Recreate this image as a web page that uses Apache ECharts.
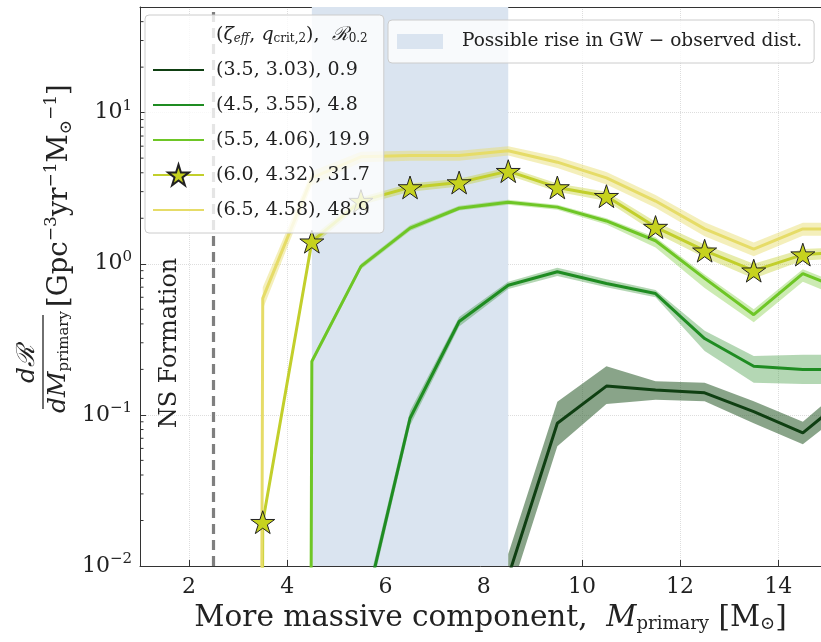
<!DOCTYPE html>
<html><head><meta charset="utf-8">
<script src="https://cdn.jsdelivr.net/npm/echarts@6/dist/echarts.min.js"></script>
<style>html,body{margin:0;padding:0;background:#fff}#c{width:821px;height:642px}</style>
</head><body><div id="c"></div>
<script>
// ---------------- data ----------------
const masses = [2.5, 3.5, 4.5, 5.5, 6.5, 7.5, 8.5, 9.5, 10.5, 11.5, 12.5, 13.5, 14.5, 15.5];

const seriesNames = ['(3.5, 3.03), 0.9', '(4.5, 3.55), 4.8', '(5.5, 4.06), 19.9', '(6.0, 4.32), 31.7', '(6.5, 4.58), 48.9'];

const rate_a = [0, 0, 0, 0, 0, 0, 0.0085, 0.088, 0.155, 0.146, 0.14, 0.105, 0.076, 0.14];
const low_a  = [0, 0, 0, 0, 0, 0, 0.006, 0.062, 0.118, 0.126, 0.123, 0.088, 0.064, 0.115];
const high_a = [0, 0, 0, 0, 0, 0, 0.012, 0.122, 0.21, 0.167, 0.163, 0.123, 0.09, 0.17];

const rate_b = [0, 0, 0, 0.004, 0.095, 0.415, 0.72, 0.885, 0.74, 0.635, 0.32, 0.21, 0.2, 0.2];
const low_b  = [0, 0, 0, 0.0035, 0.085, 0.385, 0.68, 0.83, 0.7, 0.6, 0.265, 0.163, 0.16, 0.16];
const high_b = [0, 0, 0, 0.0046, 0.106, 0.445, 0.76, 0.94, 0.79, 0.67, 0.36, 0.245, 0.25, 0.25];

const rate_c = [0, 0, 0.226, 0.96, 1.72, 2.33, 2.55, 2.37, 1.92, 1.42, 0.8, 0.46, 0.86, 0.64];
const low_c  = [0, 0, 0.215, 0.92, 1.65, 2.25, 2.46, 2.28, 1.82, 1.28, 0.69, 0.41, 0.76, 0.56];
const high_c = [0, 0, 0.237, 1.0, 1.8, 2.42, 2.65, 2.46, 2.0, 1.5, 0.85, 0.5, 0.92, 0.68];

const rate_d = [0, 0.0195, 1.4, 2.6, 3.2, 3.45, 4.1, 3.2, 2.8, 1.75, 1.22, 0.9, 1.15, 1.2];
const low_d  = [0, 0.018, 1.3, 2.45, 3.0, 3.25, 3.85, 3.0, 2.6, 1.6, 1.1, 0.8, 1.05, 1.1];
const high_d = [0, 0.021, 1.5, 2.75, 3.4, 3.65, 4.35, 3.4, 3.0, 1.9, 1.34, 1.0, 1.25, 1.3];

const rate_e = [0, 0.59, 3.7, 5.1, 5.2, 5.2, 5.6, 4.7, 3.7, 2.6, 1.7, 1.25, 1.7, 1.7];
const low_e  = [0, 0.5, 3.3, 4.7, 4.8, 4.8, 5.2, 4.3, 3.35, 2.35, 1.52, 1.12, 1.53, 1.53];
const high_e = [0, 0.7, 4.1, 5.5, 5.6, 5.6, 6.0, 5.1, 4.05, 2.85, 1.88, 1.38, 1.87, 1.87];

const gwRiseRange = [4.5, 8.5];
const nsFormationMass = 2.5;

const xTickValues = [2, 4, 6, 8, 10, 12, 14];
const yDecades = [0.01, 0.1, 1, 10];
const minorMultipliers = [2, 3, 4, 5, 6, 7, 8, 9];

const X_MIN = 1, X_MAX = 14.87, Y_MIN = 0.01, Y_MAX = 50;

// ---------------- styling ----------------
const SERIF = '"DejaVu Serif", "Liberation Serif", serif';
const colors = ['#0f3f12', '#1f8c22', '#6ec626', '#c2cf2c', '#e6dc68'];
const bandColors = ['rgba(40,90,40,0.55)', 'rgba(40,140,40,0.35)', 'rgba(110,198,38,0.35)', 'rgba(194,207,44,0.4)', 'rgba(230,220,104,0.45)'];
const HDR = 'hdr';
const GW_NAME = 'Possible rise in GW \u2212 observed dist.';
const STAR = 'path://M50 0 L61.23 34.55 L97.55 34.55 L68.17 55.9 L79.39 90.45 L50 69.1 L20.61 90.45 L31.83 55.9 L2.45 34.55 L38.77 34.55 Z';

// matplotlib clips non-positive values on a log axis to a tiny number
const clipLog = v => (v > 0 ? v : 1e-100);

const rates = [rate_a, rate_b, rate_c, rate_d, rate_e];
const lows = [low_a, low_b, low_c, low_d, low_e];
const highs = [high_a, high_b, high_c, high_d, high_e];

function bandSeries(lo, hi, color) {
  return {
    type: 'custom', coordinateSystem: 'cartesian2d', silent: true, clip: true, z: 2,
    data: masses.map((m, i) => [m, clipLog(lo[i]), clipLog(hi[i])]),
    renderItem: (params, api) => {
      if (params.dataIndex !== 0) return null;
      const pts = [];
      for (let i = 0; i < masses.length; i++) pts.push(api.coord([masses[i], clipLog(hi[i])]));
      for (let i = masses.length - 1; i >= 0; i--) pts.push(api.coord([masses[i], clipLog(lo[i])]));
      return { type: 'polygon', shape: { points: pts }, style: { fill: color } };
    }
  };
}

const series = [];
series.push({
  type: 'line', name: GW_NAME, data: [], color: '#dae4f0', z: 1, silent: true,
  markArea: { silent: true, itemStyle: { color: '#dae4f0', opacity: 1 },
    data: [[{ xAxis: gwRiseRange[0] }, { xAxis: gwRiseRange[1] }]] },
  markLine: { silent: true, symbol: ['none', 'none'], label: { show: false },
    lineStyle: { color: '#7f7f7f', type: [10, 6], width: 3.2 },
    data: [{ xAxis: nsFormationMass }] }
});
series.push({ type: 'line', name: HDR, data: [], color: 'rgba(0,0,0,0)' });

for (let k = 0; k < 5; k++) {
  series.push(bandSeries(lows[k], highs[k], bandColors[k]));
  const isStar = k === 3;
  series.push({
    type: 'line', name: seriesNames[k], z: 3,
    data: masses.map((m, i) => [m, clipLog(rates[k][i])]),
    color: colors[k],
    lineStyle: { width: 3, color: colors[k] },
    symbol: isStar ? STAR : 'none',
    symbolKeepAspect: true,
    symbolSize: 24,
    showSymbol: isStar,
    itemStyle: isStar ? { color: '#c6d21e', borderColor: '#222', borderWidth: 1 } : { color: colors[k] },
    clip: true, silent: true
  });
}

const minorTickValues = [];
yDecades.forEach(d => minorMultipliers.forEach(m => { if (d * m < Y_MAX) minorTickValues.push(d * m); }));
series.push({
  type: 'custom', coordinateSystem: 'cartesian2d', silent: true, clip: false, z: 6,
  data: minorTickValues.map(v => [X_MIN, v]),
  renderItem: (params, api) => {
    const p = api.coord([api.value(0), api.value(1)]);
    return { type: 'line', shape: { x1: p[0], y1: p[1], x2: p[0] + 3.5, y2: p[1] }, style: { stroke: '#333', lineWidth: 1 } };
  }
});

const legendRich = {
  i: { fontFamily: SERIF, fontStyle: 'italic', fontSize: 19, lineHeight: 22 },
  s: { fontFamily: SERIF, fontSize: 12, lineHeight: 14, padding: [8, 0, 0, 0] },
  si: { fontFamily: SERIF, fontSize: 12, lineHeight: 14, fontStyle: 'italic', padding: [8, 0, 0, 0] },
  c: { fontFamily: SERIF, fontSize: 19, fontStyle: 'italic', lineHeight: 22 }
};

const option = {
  animation: false,
  backgroundColor: '#fff',
  grid: { left: 140, right: 0, top: 7, bottom: 76, show: false },
  xAxis: [{
    type: 'value', min: X_MIN, max: X_MAX,
    axisLine: { lineStyle: { color: '#333', width: 1 } },
    axisTick: { show: true, inside: true, length: 6, customValues: xTickValues, lineStyle: { color: '#333' } },
    axisLabel: { customValues: xTickValues, fontFamily: SERIF, fontSize: 22, color: '#222', margin: 10 },
    splitLine: { show: true, lineStyle: { color: '#dddddd', type: 'dotted', width: 1 } },
    name: 'More massive component,  {i|M}{s|primary} [M{s|\u2299}]',
    nameLocation: 'middle', nameGap: 36,
    nameTextStyle: { fontFamily: SERIF, fontSize: 29.5, color: '#222', padding: [0, 0, 0, 20],
      rich: { i: { fontFamily: SERIF, fontSize: 29.5, fontStyle: 'italic' }, s: { fontFamily: SERIF, fontSize: 18, padding: [12, 0, 0, 0] } } }
  }, {
    type: 'value', position: 'top', min: X_MIN, max: X_MAX,
    axisLine: { show: true, lineStyle: { color: '#333', width: 1 } },
    axisTick: { show: false }, axisLabel: { show: false }, splitLine: { show: false }
  }],
  yAxis: {
    type: 'log', logBase: 10, min: Y_MIN, max: Y_MAX,
    axisLine: { show: true, lineStyle: { color: '#333', width: 1 } },
    axisTick: { show: true, inside: true, length: 6, lineStyle: { color: '#333' } },
    axisLabel: {
      fontFamily: SERIF, color: '#222', margin: 8, showMaxLabel: false,
      formatter: v => {
        const e = Math.log10(v);
        if (Math.abs(e - Math.round(e)) > 1e-6) return '';
        const r = Math.round(e);
        return '{b|10}{e|' + (r < 0 ? '\u2212' + (-r) : r) + '}';
      },
      rich: { b: { fontFamily: SERIF, fontSize: 22 }, e: { fontFamily: SERIF, fontSize: 15, padding: [0, 0, 14, 0] } }
    },
    splitLine: { show: true, lineStyle: { color: '#dddddd', type: 'dotted', width: 1 } }
  },
  legend: [
    {
      z: 20,
      left: 145, top: 15, orient: 'vertical',
      itemWidth: 51, itemHeight: 26, itemGap: 9,
      padding: [7, 14, 10, 7],
      backgroundColor: 'rgba(255,255,255,0.8)', borderColor: '#cccccc', borderWidth: 1, borderRadius: 4,
      selectedMode: false,
      textStyle: { fontFamily: SERIF, fontSize: 19, lineHeight: 26, color: '#222', padding: [0, 0, 0, 7], rich: legendRich },
      formatter: name => name === HDR
        ? '({i|\u03B6}{si|eff}, {i|q}{s|crit,2}),  {c|\u211B}{s|0.2}'
        : name,
      data: [
        { name: HDR, itemStyle: { opacity: 0 }, lineStyle: { opacity: 0 } },
        { name: seriesNames[0], itemStyle: { opacity: 0 } },
        { name: seriesNames[1], itemStyle: { opacity: 0 } },
        { name: seriesNames[2], itemStyle: { opacity: 0 } },
        { name: seriesNames[3] },
        { name: seriesNames[4], itemStyle: { opacity: 0 } }
      ]
    },
    {
      z: 20,
      left: 388, top: 20, orient: 'vertical',
      itemWidth: 46, itemHeight: 15,
      padding: [12, 12, 12, 9],
      backgroundColor: 'rgba(255,255,255,0.8)', borderColor: '#cccccc', borderWidth: 1, borderRadius: 4,
      selectedMode: false,
      textStyle: { fontFamily: SERIF, fontSize: 18.5, color: '#222', padding: [0, 0, 0, 14] },
      data: [{ name: GW_NAME, icon: 'rect' }]
    }
  ],
  graphic: [
    {
      type: 'text', x: 170, y: 343, rotation: Math.PI / 2, silent: true, z: 10,
      style: { text: 'NS Formation', fontFamily: SERIF, fontSize: 24, fill: '#222', align: 'center', verticalAlign: 'middle' }
    },
    {
      type: 'group', x: 43, y: 362, rotation: Math.PI / 2, silent: true, z: 10,
      children: [
        { type: 'text', x: -2, y: -3, style: { text: '{i|d}{c|\u211B}', align: 'center', verticalAlign: 'bottom', fill: '#222',
            rich: { i: { fontFamily: SERIF, fontSize: 25, fontStyle: 'italic' }, c: { fontFamily: SERIF, fontSize: 25, fontStyle: 'italic' } } } },
        { type: 'line', shape: { x1: -47, y1: 0, x2: 47, y2: 0 }, style: { stroke: '#222', lineWidth: 1.3 } },
        { type: 'text', x: 0, y: 2, style: { text: '{i|dM}{s|primary}', align: 'center', verticalAlign: 'top', fill: '#222',
            rich: { i: { fontFamily: SERIF, fontSize: 25, fontStyle: 'italic' }, s: { fontFamily: SERIF, fontSize: 15, padding: [12, 0, 0, 0] } } } },
        { type: 'text', x: 55, y: 17, style: { text: '[Gpc{e|\u22123}yr{e|\u22121}M{s|\u2299}{e|\u22121}]', align: 'left', verticalAlign: 'middle', fill: '#222',
            fontFamily: SERIF, fontSize: 27.5,
            rich: { e: { fontFamily: SERIF, fontSize: 17, padding: [0, 0, 16, 0] }, s: { fontFamily: SERIF, fontSize: 17, padding: [14, 0, 0, 0] } } } }
      ]
    }
  ],
  series: series
};

const chart = echarts.init(document.getElementById('c'), null, { renderer: 'canvas' });
chart.setOption(option);
</script>
</body></html>
